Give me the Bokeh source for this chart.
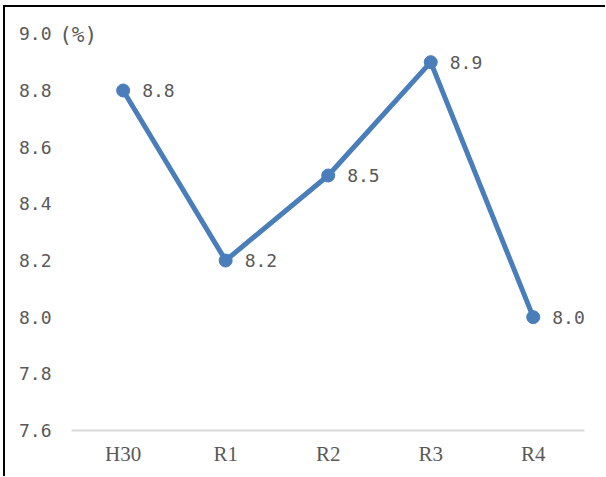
from bokeh.plotting import figure
from bokeh.models import ColumnDataSource, Range1d, FixedTicker, Label
from bokeh.embed import file_html
from bokeh.resources import INLINE
from bokeh.core.properties import value

# Annual rate (%) by fiscal year
years = ["H30", "R1", "R2", "R3", "R4"]
rates = [8.8, 8.2, 8.5, 8.9, 8.0]
y_ticks = [7.6, 7.8, 8.0, 8.2, 8.4, 8.6, 8.8, 9.0]
unit_label = "(%)"

BLUE = "#4A7EBB"
GREY_TEXT = "#595959"
NUM_FONT = "DejaVu Sans Mono"
CAT_FONT = "Liberation Serif"

idx = list(range(len(years)))
src = ColumnDataSource(dict(x=idx, y=rates, lbl=[f"{v:.1f}" for v in rates]))

# numeric x and a little headroom so the frame also covers the unit marker
p = figure(
    x_range=Range1d(-0.65, len(years) - 0.5), y_range=Range1d(7.6, 9.04),
    width=602, height=471, margin=(5, 0, 0, 3),
    output_backend="svg", toolbar_location=None,
    min_border_left=51, min_border_right=23, min_border_top=15, min_border_bottom=48,
    background_fill_color="white", border_fill_color="white",
    styles={"border-top": "2px solid black", "border-left": "2px solid black"},
)
p.outline_line_color = None
p.grid.visible = False

p.line("x", "y", source=src, line_color=BLUE, line_width=5)
p.scatter("x", "y", source=src, size=13, fill_color=BLUE, line_color=BLUE)
p.text("x", "y", text="lbl", source=src, x_offset=19, text_align="left",
       text_baseline="middle", text_color=GREY_TEXT, text_font_size="18px",
       text_font=value(NUM_FONT))

ya = p.yaxis[0]
ya.ticker = FixedTicker(ticks=y_ticks)
ya.major_label_overrides = {t: f"{t:.1f}" for t in y_ticks}
ya.axis_line_color = None
ya.major_tick_line_color = None
ya.major_tick_out = 0
ya.minor_tick_line_color = None
ya.minor_tick_out = 0
ya.major_label_standoff = 5
ya.major_label_text_font = NUM_FONT
ya.major_label_text_font_size = "18px"
ya.major_label_text_color = GREY_TEXT

xa = p.xaxis[0]
xa.ticker = FixedTicker(ticks=idx)
xa.major_label_overrides = {i: name for i, name in zip(idx, years)}
xa.bounds = (-0.5, len(years) - 0.5)
xa.axis_line_color = "#D9D9D9"
xa.axis_line_width = 2
xa.major_tick_line_color = None
xa.major_tick_out = 0
xa.minor_tick_line_color = None
xa.minor_tick_out = 0
xa.major_label_standoff = 11
xa.major_label_text_font = CAT_FONT
xa.major_label_text_font_size = "21px"
xa.major_label_text_color = GREY_TEXT

# unit marker beside the top tick label
p.add_layout(Label(x=idx[0], y=y_ticks[-1], x_offset=-64, y_offset=-1, text=unit_label,
                   text_baseline="middle", text_align="left",
                   text_color=GREY_TEXT, text_font_size="21px", text_font=NUM_FONT))

open("out.html", "w").write(file_html(p, INLINE))
